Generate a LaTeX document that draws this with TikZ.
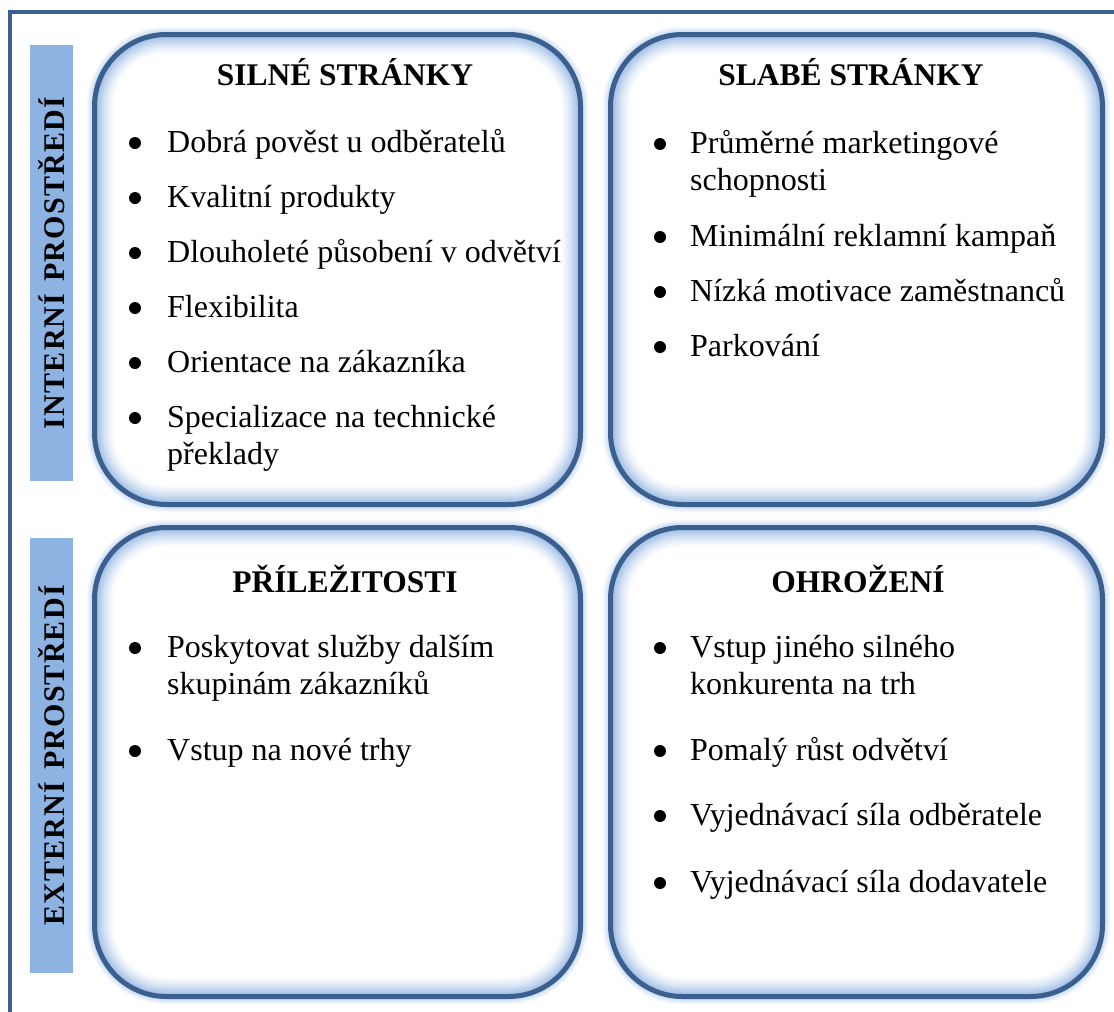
\documentclass[tikz,border=0pt]{standalone}
\usepackage{fontspec}
\setmainfont{Liberation Serif}
\newfontfamily\sidefont[LetterSpace=4]{Liberation Serif}
\definecolor{framec}{HTML}{3B5F8E}
\definecolor{barc}{HTML}{8DB3E2}
\definecolor{glowc}{HTML}{95B7E3}
\newcommand\glowfill[4]{%
  \foreach \k in {6,5,...,1}{%
    \pgfmathsetmacro\mo{50-8*\k}%
    \pgfmathsetmacro\ro{72+2.5+\k}%
    \fill[glowc!\mo!white, rounded corners=\ro pt] (#1-2.5-\k,#2-2.5-\k) rectangle (#3+2.5+\k,#4+2.5+\k);
  }%
  \foreach \k in {0,1,...,20}{%
    \pgfmathsetmacro\mx{100*(1-\k/20)^1.4}%
    \pgfmathsetmacro\rr{72-\k}%
    \fill[glowc!\mx!white, rounded corners=\rr pt] (#1+\k,#2+\k) rectangle (#3-\k,#4-\k);
  }}
\tikzset{
  swotbox/.style={draw=framec, line width=5pt, rounded corners=72pt, rectangle, inner sep=0pt, outer sep=0pt},
  sidebar/.style={fill=barc, rectangle, inner sep=0pt, outer sep=0pt, rotate=90, minimum height=43pt,
     font=\sidefont\fontsize{30}{34}\selectfont\bfseries},
  ttl/.style={anchor=base, inner sep=0pt, font=\fontsize{31.5}{36}\selectfont\bfseries},
  itm/.style={anchor=base west, inner sep=0pt, font=\fontsize{32}{37}\selectfont},
  bul/.style={circle, fill=black, inner sep=0pt, minimum size=12pt},
}
\begin{document}
\begin{tikzpicture}[x=1pt,y=-1pt]
\useasboundingbox (0,0) rectangle (1114,1012);
% outer frame
\draw[framec, line width=4.5pt] (10,1030) -- (10,12) -- (1130,12);
% side bars
\node[sidebar, minimum width=436pt] (intbar) at (51.5,263) {INTERNÍ\hspace{12pt}PROSTŘEDÍ};
\node[sidebar, minimum width=435pt] (extbar) at (51.5,755.5) {EXTERNÍ\hspace{12pt}PROSTŘEDÍ};
% glows
\glowfill{94.5}{34.5}{580.5}{504.5}
\glowfill{610.5}{34.5}{1102.5}{504.5}
\glowfill{94.5}{527.5}{580.5}{996.5}
\glowfill{610.5}{527.5}{1102.5}{996.5}
% boxes
\node[swotbox, minimum width=486pt, minimum height=470pt] (sbox) at (337.5,269.5) {};
\node[swotbox, minimum width=492pt, minimum height=470pt] (wbox) at (856.5,269.5) {};
\node[swotbox, minimum width=486pt, minimum height=469pt] (obox) at (337.5,762) {};
\node[swotbox, minimum width=492pt, minimum height=469pt] (tbox) at (856.5,762) {};
% titles
\node[ttl] (stitle) at (345,85) {SILNÉ STRÁNKY};
\node[ttl] (wtitle) at (851,85) {SLABÉ STRÁNKY};
\node[ttl] (otitle) at (345,592) {PŘÍLEŽITOSTI};
\node[ttl] (ttitle) at (858,592) {OHROŽENÍ};
% strengths
\node[bul] (sb1) at (135,143) {};
\node[itm] (s1) at (167,152) {Dobrá pověst u odběratelů};
\node[bul] (sb2) at (135,198) {};
\node[itm] (s2) at (167,207) {Kvalitní produkty};
\node[bul] (sb3) at (135,253) {};
\node[itm] (s3) at (167,262) {Dlouholeté působení v odvětví};
\node[bul] (sb4) at (135,308) {};
\node[itm] (s4) at (167,317) {Flexibilita};
\node[bul] (sb5) at (135,363) {};
\node[itm] (s5) at (167,372) {Orientace na zákazníka};
\node[bul] (sb6) at (135,418) {};
\node[itm] (s6) at (167,427) {Specializace na technické};
\node[itm] (s6b) at (167,464) {překlady};
% weaknesses
\node[bul] (wb1) at (660,144) {};
\node[itm] (w1) at (690,153) {Průměrné marketingové};
\node[itm] (w1b) at (690,190) {schopnosti};
\node[bul] (wb2) at (660,237) {};
\node[itm] (w2) at (690,246) {Minimální reklamní kampaň};
\node[bul] (wb3) at (660,292) {};
\node[itm] (w3) at (690,301) {Nízká motivace zaměstnanců};
\node[bul] (wb4) at (660,347) {};
\node[itm] (w4) at (690,356) {Parkování};
% opportunities
\node[bul] (ob1) at (135,648) {};
\node[itm] (o1) at (167,657) {Poskytovat služby dalším};
\node[itm] (o1b) at (167,694) {skupinám zákazníků};
\node[bul] (ob2) at (135,751) {};
\node[itm] (o2) at (167,760) {Vstup na nové trhy};
% threats
\node[bul] (tb1) at (660,648) {};
\node[itm] (t1) at (690,657) {Vstup jiného silného};
\node[itm] (t1b) at (690,694) {konkurenta na trh};
\node[bul] (tb2) at (660,751) {};
\node[itm] (t2) at (690,760) {Pomalý růst odvětví};
\node[bul] (tb3) at (660,816) {};
\node[itm] (t3) at (690,825) {Vyjednávací síla odběratele};
\node[bul] (tb4) at (660,883) {};
\node[itm] (t4) at (690,892) {Vyjednávací síla dodavatele};
\end{tikzpicture}
\end{document}
